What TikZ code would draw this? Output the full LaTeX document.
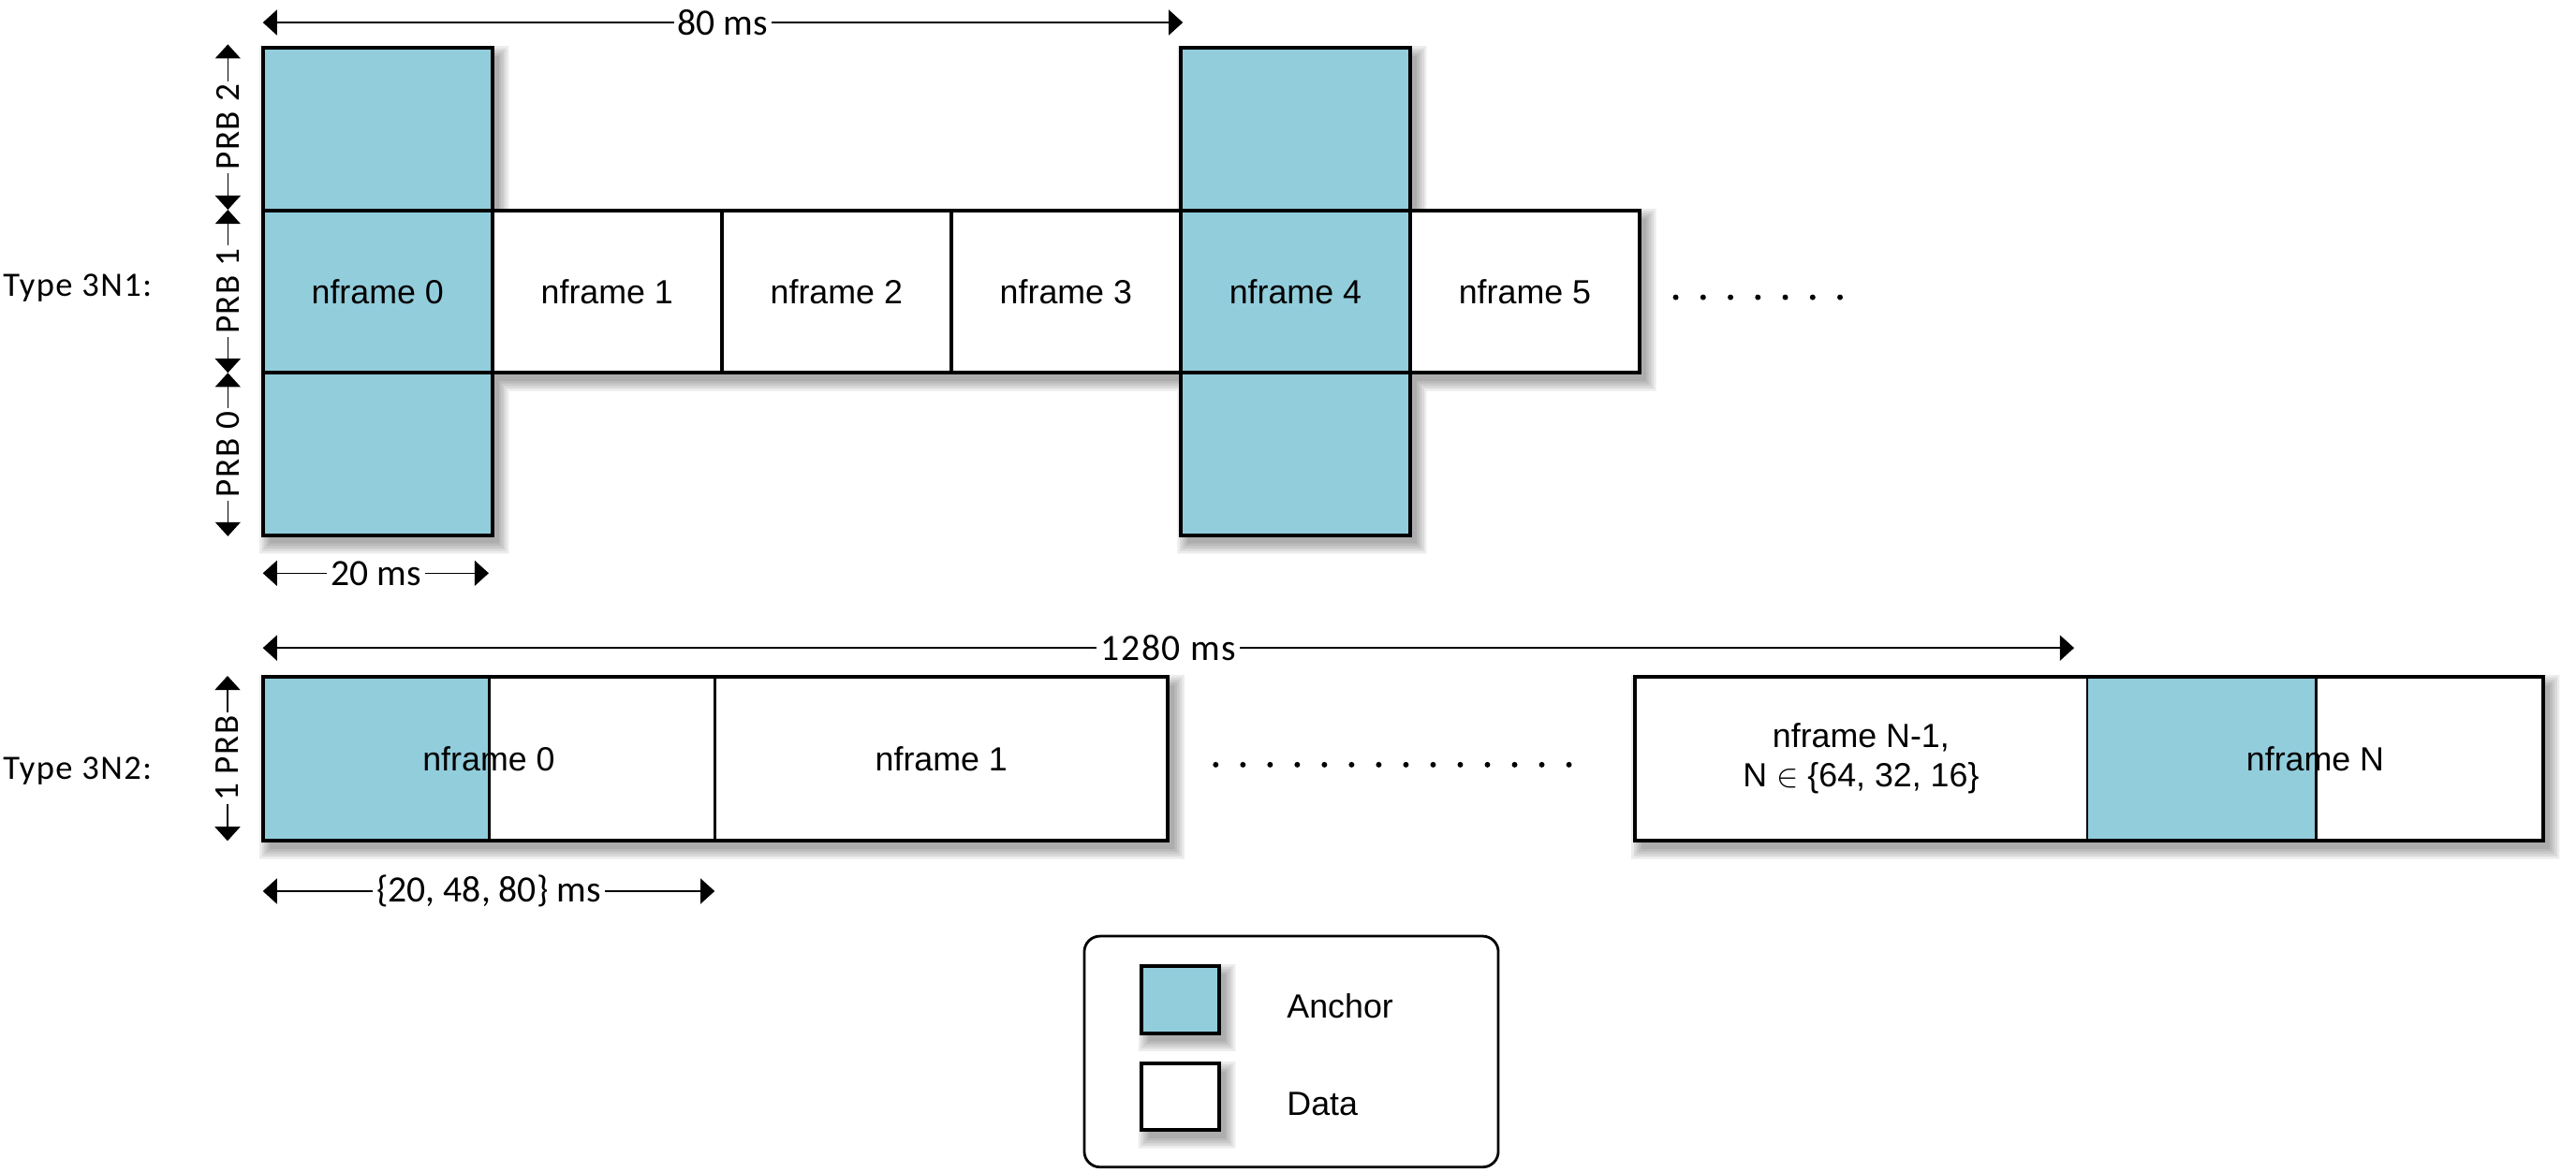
\documentclass[tikz,border=0pt]{standalone}
\usepackage{fontspec}
\setmainfont{Liberation Sans}
\newfontfamily\calfont{Carlito}
\newfontfamily\calfontsp[LetterSpace=4]{Carlito}
\usetikzlibrary{arrows.meta}
\definecolor{anchorblue}{RGB}{146,205,220}
\begin{document}
\begin{tikzpicture}[x=0.5pt, y=-0.5pt,
  cell/.style={rectangle, draw=black, line width=1.15pt, inner sep=0pt, outer sep=0pt, fill=white,
    font=\fontsize{10.2}{11.9}\selectfont, align=center},
  anch/.style={fill=anchorblue},
  textcell/.style={rectangle, inner sep=0pt, outer sep=0pt, font=\fontsize{10.2}{11.9}\selectfont, align=center},
  divider/.style={line width=0.8pt},
  outer/.style={line width=1.15pt},
  dim/.style={line width=0.4pt, {Triangle[length=4.3pt,width=7.7pt]}-{Triangle[length=4.3pt,width=7.7pt]}},
  dimlab/.style={fill=white, inner xsep=1.2pt, inner ysep=0.5pt, font=\calfont\fontsize{11.3}{13}\selectfont},
  dimlabsp/.style={fill=white, inner xsep=1.2pt, inner ysep=0.5pt, font=\calfontsp\fontsize{11.3}{13}\selectfont},
  prblab/.style={fill=white, rotate=90, inner xsep=1pt, inner ysep=0.5pt, font=\calfontsp\fontsize{10.6}{12}\selectfont},
  typelab/.style={anchor=base west, inner sep=0pt, font=\calfontsp\fontsize{10.4}{12}\selectfont},
  legtext/.style={anchor=base west, inner sep=0pt, font=\fontsize{10.2}{12}\selectfont}
]
\useasboundingbox (0,0) rectangle (1568,713.6);

% ---------- soft shadows ----------
\foreach \i in {0,1.5,3,4.5,6}{
  \fill[black, fill opacity=0.075]
    ({164-\i},{34-\i}) rectangle ({303.67+\i},{331+\i})
    ({164-\i},{133-\i}) rectangle ({1002+\i},{232+\i})
    ({722.67-\i},{34-\i}) rectangle ({862.33+\i},{331+\i})
    ({164-\i},{417-\i}) rectangle ({715+\i},{517+\i})
    ({999-\i},{417-\i}) rectangle ({1552+\i},{517+\i})
    ({699-\i},{593-\i}) rectangle ({746+\i},{634+\i})
    ({699-\i},{652.4-\i}) rectangle ({746+\i},{693.1+\i});
}

% ---------- Type 3N1 ----------
\node[typelab] (t1) at (1.5,180.5) {Type 3N1:};

\node[cell, minimum width=69.83pt, minimum height=49.5pt] (f1) at (369.5,177.5) {nframe 1};
\node[cell, minimum width=69.83pt, minimum height=49.5pt] (f2) at (509.17,177.5) {nframe 2};
\node[cell, minimum width=69.83pt, minimum height=49.5pt] (f3) at (648.83,177.5) {nframe 3};
\node[cell, minimum width=69.83pt, minimum height=49.5pt] (f5) at (928.17,177.5) {nframe 5};

\node[cell, anch, minimum width=69.83pt, minimum height=49.5pt] (a0t) at (229.83,78.5) {};
\node[cell, anch, minimum width=69.83pt, minimum height=49.5pt] (f0) at (229.83,177.5) {nframe 0};
\node[cell, anch, minimum width=69.83pt, minimum height=49.5pt] (a0b) at (229.83,276.5) {};

\node[cell, anch, minimum width=69.83pt, minimum height=49.5pt] (a4t) at (788.5,78.5) {};
\node[cell, anch, minimum width=69.83pt, minimum height=49.5pt] (f4) at (788.5,177.5) {nframe 4};
\node[cell, anch, minimum width=69.83pt, minimum height=49.5pt] (a4b) at (788.5,276.5) {};

\foreach \k in {0,...,6} \fill ({1020+\k*16.67},181) circle[radius=0.85pt];

% dimensions, row 1
\coordinate (d80l) at (160,13.7);
\coordinate (d80r) at (720,13.7);
\draw[dim] (d80l) -- node[dimlab] (l80) {80 ms} (d80r);

\coordinate (d20l) at (160,349);
\coordinate (d20r) at (297.5,349);
\draw[dim] (d20l) -- node[dimlab] (l20) {20 ms} (d20r);

\coordinate (p0) at (138.7,27);
\coordinate (p1) at (138.7,127.7);
\coordinate (p2) at (138.7,227);
\coordinate (p3) at (138.7,326.5);
\draw[dim] (p0) -- node[prblab] (lprb2) {PRB 2} (p1);
\draw[dim] (p1) -- node[prblab] (lprb1) {PRB 1} (p2);
\draw[dim] (p2) -- node[prblab] (lprb0) {PRB 0} (p3);

% ---------- Type 3N2 ----------
\node[typelab] (t2) at (1.5,474.6) {Type 3N2:};

\node[rectangle, fill=white, inner sep=0pt, outer sep=0pt, minimum width=275.5pt, minimum height=50pt] (box1) at (435.5,462) {};
\node[rectangle, anch, draw=black, divider, inner sep=0pt, outer sep=0pt, minimum width=69pt, minimum height=50pt] (anc0) at (229,462) {};
\node[textcell, minimum width=137.5pt, minimum height=50pt] (n0) at (297.5,462) {nframe 0};
\node[textcell, minimum width=138pt, minimum height=50pt] (n1) at (573,462) {nframe 1};
\draw[divider] (n0.north east) -- (n0.south east);
\draw[outer] (box1.north west) rectangle (box1.south east);

\node[rectangle, fill=white, inner sep=0pt, outer sep=0pt, minimum width=276.5pt, minimum height=50pt] (box2) at (1271.5,462) {};
\node[rectangle, anch, draw=black, divider, inner sep=0pt, outer sep=0pt, minimum width=69.55pt, minimum height=50pt] (ancN) at (1340.05,462) {};
\node[textcell, minimum width=137.75pt, minimum height=50pt] (nN1) at (1132.75,462) {nframe N-1,\\N $\in$ \{64, 32, 16\}};
\node[textcell, minimum width=138.75pt, minimum height=50pt] (nN) at (1409.25,462) {nframe N};
\draw[outer] (box2.north west) rectangle (box2.south east);

\foreach \k in {0,...,13} \fill ({740+\k*16.54},465.6) circle[radius=0.85pt];

\coordinate (d1280l) at (160,394.5);
\coordinate (d1280r) at (1262.5,394.5);
\draw[dim] (d1280l) -- node[dimlabsp] (l1280) {1280 ms} (d1280r);

\coordinate (dvl) at (160,542.6);
\coordinate (dvr) at (435,542.6);
\draw[dim] (dvl) -- node[dimlab] (lv) {\{20, 48, 80\} ms} (dvr);

\coordinate (q0) at (138.5,411.5);
\coordinate (q1) at (138.5,512);
\draw[dim] (q0) -- node[prblab] (lprb) {1 PRB} (q1);

% ---------- legend ----------
\node[rectangle, draw=black, line width=0.8pt, rounded corners=4.75pt, inner sep=0pt,
      minimum width=126pt, minimum height=70.3pt] (legend) at (786,640.3) {};
\node[cell, anch, minimum width=23.5pt, minimum height=20.5pt] (legA) at (718.5,608.5) {};
\node[cell, minimum width=23.5pt, minimum height=20.35pt] (legD) at (718.5,667.75) {};
\node[legtext] (legAt) at (783,620) {Anchor};
\node[legtext] (legDt) at (783,679) {Data};
\end{tikzpicture}
\end{document}
